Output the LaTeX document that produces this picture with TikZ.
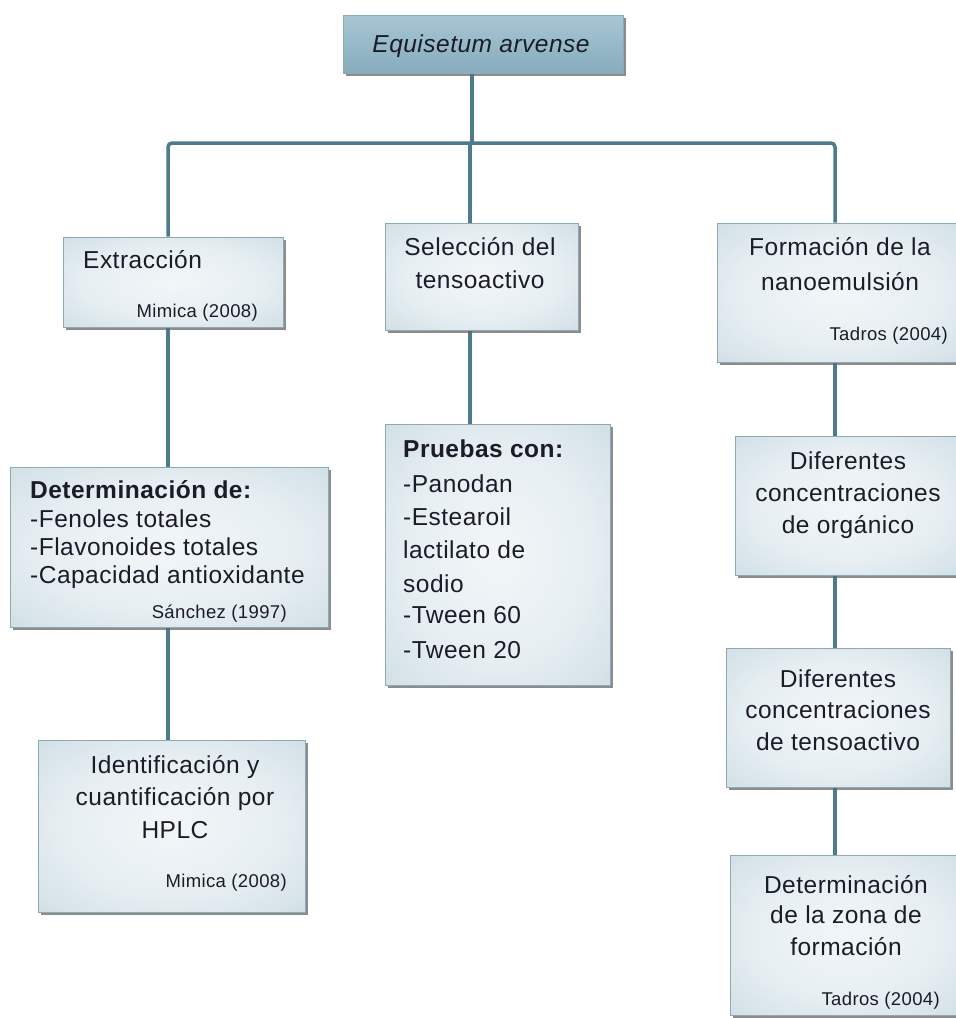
\documentclass[tikz,border=0pt]{standalone}
\usepackage{fontspec}
\setmainfont{Liberation Sans}[LetterSpace=2.0]
\usetikzlibrary{shadows,backgrounds}
\definecolor{boxouter}{HTML}{A6C3CF}
\definecolor{boxinner}{HTML}{F2F6F8}
\definecolor{topA}{HTML}{A8C6D3}
\definecolor{topB}{HTML}{86ACBD}
\definecolor{linec}{HTML}{4E7B8B}
\definecolor{txt}{HTML}{1C1C28}
\definecolor{edgec}{HTML}{8FA9B4}
\pgfdeclareradialshading{boxshade}{\pgfpoint{0bp}{0bp}}{%
  color(0bp)=(boxinner);
  color(20bp)=(boxinner!85!boxouter);
  color(42bp)=(boxinner!45!boxouter);
  color(70bp)=(boxouter)}
\tikzset{
  box/.style={draw=edgec, line width=0.6pt, inner sep=0, shading=boxshade,
    drop shadow={shadow xshift=3pt, shadow yshift=-3pt, fill=black!60, opacity=0.75}},
  topbox/.style={draw=edgec, line width=0.6pt, inner sep=0, top color=topA, bottom color=topB,
    drop shadow={shadow xshift=3pt, shadow yshift=-3pt, fill=black!60, opacity=0.75}},
  conn/.style={draw=linec, line width=3.5pt},
  tx/.style={inner sep=0, text=txt, font=\fontsize{24.5}{33}\selectfont},
  ref/.style={inner sep=0, text=txt, font=\fontsize{18.5}{20}\selectfont, anchor=base east},
}
\begin{document}
\begin{tikzpicture}[x=1pt,y=-1pt]
\useasboundingbox (0,0) rectangle (956,1018);
% boxes
\node[topbox, minimum width=280, minimum height=58] (top) at (483,44) {};
\node[box, minimum width=220, minimum height=90] (ext) at (173,282) {};
\node[box, minimum width=318, minimum height=160] (det) at (169,547) {};
\node[box, minimum width=267, minimum height=172] (ident) at (171.5,826) {};
\node[box, minimum width=193, minimum height=107] (sel) at (481.5,276.5) {};
\node[box, minimum width=225, minimum height=261] (prue) at (497.5,554.5) {};
\node[box, minimum width=245, minimum height=139] (form) at (839.5,292.5) {};
\node[box, minimum width=227, minimum height=139] (dorg) at (848.5,505.5) {};
\node[box, minimum width=224, minimum height=139] (dten) at (838,717.5) {};
\node[box, minimum width=232, minimum height=160] (zona) at (846,935) {};
% connectors
\coordinate (cT) at (472,143);
\coordinate (cL) at (168,143);
\coordinate (cM) at (470,143);
\coordinate (cR) at (835,143);
\begin{pgfonlayer}{background}
\fill[white] (0,0) rectangle (956,1018);
\draw[conn] (top.south -| cT) -- (cT);
\draw[conn, rounded corners=4pt] (ext.north -| cL) -- (cL) -- (cR) -- (form.north -| cR);
\draw[conn] (cM) -- (sel.north -| cM);
\draw[conn] (ext.south -| cL) -- (det.north -| cL);
\draw[conn] (det.south -| cL) -- (ident.north -| cL);
\draw[conn] (sel.south -| cM) -- (prue.north -| cM);
\draw[conn] (form.south -| cR) -- (dorg.north -| cR);
\draw[conn] (dorg.south -| cR) -- (dten.north -| cR);
\draw[conn] (dten.south -| cR) -- (zona.north -| cR);
\end{pgfonlayer}
% texts
\node[tx, anchor=base] (t0) at (481,52) {\itshape Equisetum arvense};
\node[tx, anchor=base west] (t1) at (83,268) {Extracción};
\node[ref] (r1) at (258,317) {Mimica (2008)};
\node[tx, anchor=base west] (t2) at (30,498) {\bfseries Determinación de:};
\node[tx, anchor=base west] (t3) at (30,527) {-Fenoles totales};
\node[tx, anchor=base west] (t4) at (30,555) {-Flavonoides totales};
\node[tx, anchor=base west] (t5) at (30,583) {-Capacidad antioxidante};
\node[ref] (r2) at (287,618) {Sánchez (1997)};
\node[tx, anchor=base] (t6) at (175,773) {Identificación y};
\node[tx, anchor=base] (t7) at (175,805) {cuantificación por};
\node[tx, anchor=base] (t8) at (175,838) {HPLC};
\node[ref] (r3) at (287,887) {Mimica (2008)};
\node[tx, anchor=base] (t9) at (480,255) {Selección del};
\node[tx, anchor=base] (t10) at (480,288) {tensoactivo};
\node[tx, anchor=base west] (t11) at (403,457) {\bfseries Pruebas con:};
\node[tx, anchor=base west] (t12) at (403,492) {-Panodan};
\node[tx, anchor=base west] (t13) at (403,525) {-Estearoil};
\node[tx, anchor=base west] (t14) at (403,558) {lactilato de};
\node[tx, anchor=base west] (t15) at (403,592) {sodio};
\node[tx, anchor=base west] (t16) at (403,623) {-Tween 60};
\node[tx, anchor=base west] (t17) at (403,658) {-Tween 20};
\node[tx, anchor=base] (t18) at (840,255) {Formación de la};
\node[tx, anchor=base] (t19) at (840,290) {nanoemulsión};
\node[ref] (r4) at (948,340) {Tadros (2004)};
\node[tx, anchor=base] (t20) at (848,469) {Diferentes};
\node[tx, anchor=base] (t21) at (848,501) {concentraciones};
\node[tx, anchor=base] (t22) at (848,533) {de orgánico};
\node[tx, anchor=base] (t23) at (838,687) {Diferentes};
\node[tx, anchor=base] (t24) at (838,718) {concentraciones};
\node[tx, anchor=base] (t25) at (838,750) {de tensoactivo};
\node[tx, anchor=base] (t26) at (846,893) {Determinación};
\node[tx, anchor=base] (t27) at (846,923) {de la zona de};
\node[tx, anchor=base] (t28) at (846,955) {formación};
\node[ref] (r5) at (940,1005) {Tadros (2004)};
\end{tikzpicture}
\end{document}
